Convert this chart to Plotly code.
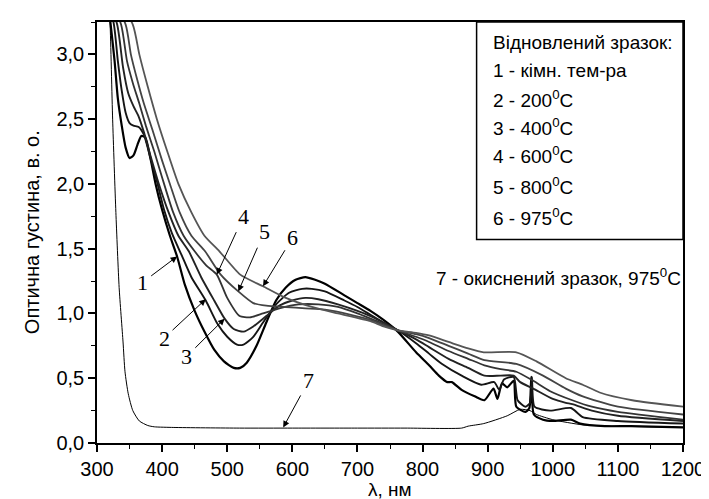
import plotly.graph_objects as go

# ---- data (wavelength, nm ; optical density) ----
wl_1 = [312,321,327,332,338,344,350,356,362,368,374,382,390,400,412,423,435,450,465,480,495,510,520,530,545,560,575,590,605,620,635,650,680,700,720,740,762,790,810,825,838,845,860,880,895,909,915,922,930,940,944,958,964,967,971,985,1000,1028,1042,1080,1120,1200]
od_1 = [3.6,3.23,2.95,2.66,2.45,2.28,2.2,2.22,2.3,2.37,2.36,2.2,2.0,1.8,1.6,1.44,1.22,1.02,0.86,0.72,0.63,0.58,0.58,0.62,0.75,0.93,1.1,1.2,1.26,1.28,1.26,1.23,1.14,1.08,1.02,0.95,0.86,0.7,0.6,0.52,0.47,0.47,0.41,0.36,0.33,0.42,0.34,0.46,0.43,0.48,0.28,0.24,0.27,0.51,0.22,0.18,0.17,0.18,0.15,0.13,0.13,0.12]

wl_2 = [308,326,332,338,344,350,356,364,372,382,392,403,415,430,445,467,485,500,515,525,540,555,575,595,615,630,650,680,700,720,740,762,790,810,830,860,890,910,918,925,940,946,958,965,968,972,996,1028,1046,1100,1200]
od_2 = [3.6,3.23,2.95,2.72,2.55,2.47,2.45,2.44,2.38,2.2,2.02,1.8,1.62,1.45,1.28,1.1,0.92,0.82,0.76,0.76,0.82,0.93,1.07,1.16,1.19,1.19,1.17,1.1,1.05,0.99,0.93,0.87,0.77,0.69,0.61,0.52,0.45,0.47,0.41,0.49,0.51,0.33,0.28,0.31,0.51,0.28,0.25,0.27,0.2,0.17,0.15]

wl_3 = [305,331,340,348,356,364,372,382,395,410,425,441,460,480,496,510,525,540,560,580,600,620,640,670,700,720,740,762,790,810,840,870,895,920,940,950,970,1000,1020,1030,1060,1100,1200]
od_3 = [3.6,3.23,2.9,2.7,2.6,2.52,2.4,2.22,2.0,1.78,1.6,1.48,1.28,1.1,0.96,0.88,0.86,0.9,0.98,1.06,1.1,1.12,1.11,1.07,1.02,0.98,0.93,0.87,0.8,0.74,0.65,0.58,0.52,0.52,0.52,0.47,0.42,0.34,0.31,0.3,0.25,0.21,0.17]

wl_4 = [305,337,346,355,365,375,388,400,417,433,450,468,484,500,519,535,555,580,610,640,670,700,720,740,762,790,810,840,870,895,920,944,970,996,1030,1060,1100,1200]
od_4 = [3.6,3.23,2.95,2.78,2.62,2.45,2.25,2.05,1.78,1.6,1.48,1.37,1.3,1.12,0.98,0.97,1.0,1.04,1.07,1.07,1.05,1.0,0.96,0.92,0.87,0.82,0.78,0.71,0.65,0.6,0.57,0.55,0.48,0.4,0.33,0.28,0.24,0.18]

wl_5 = [305,344,352,362,372,385,400,412,427,445,466,490,517,540,560,590,620,650,690,720,740,762,790,810,840,870,895,944,985,1020,1046,1100,1200]
od_5 = [3.6,3.23,3.0,2.8,2.62,2.42,2.18,2.0,1.78,1.6,1.48,1.3,1.17,1.08,1.06,1.05,1.04,1.03,0.99,0.95,0.91,0.87,0.84,0.81,0.75,0.69,0.64,0.61,0.52,0.42,0.36,0.28,0.22]

wl_6 = [310,355,365,378,392,408,425,445,465,488,520,555,590,630,670,720,740,762,790,810,840,870,894,944,975,1020,1046,1072,1122,1200]
od_6 = [3.6,3.23,3.0,2.75,2.5,2.25,2.0,1.78,1.6,1.48,1.3,1.21,1.12,1.05,1.0,0.94,0.9,0.87,0.85,0.83,0.78,0.73,0.7,0.7,0.63,0.5,0.45,0.39,0.33,0.28]

wl_7 = [316,320,324,329,334,340,343,348,355,365,378,388,418,519,600,700,773,860,870,894,930,950,965,975,1000,1046,1100,1200]
od_7 = [3.6,3.25,2.5,1.78,1.2,0.78,0.55,0.38,0.25,0.17,0.135,0.125,0.12,0.115,0.115,0.115,0.115,0.115,0.13,0.15,0.21,0.26,0.25,0.22,0.18,0.14,0.13,0.12]

series_names = ["1", "2", "3", "4", "5", "6", "7"]
legend_title = "Відновлений зразок:"
legend_lines = ["1 - кімн. тем-ра", "2 - 200<sup>0</sup>C", "3 - 400<sup>0</sup>C",
                "4 - 600<sup>0</sup>C", "5 - 800<sup>0</sup>C", "6 - 975<sup>0</sup>C"]
oxid_label = "7 - окиснений зразок, 975<sup>0</sup>C"
x_title = "λ, нм"
y_title = "Оптична густина, в. о."

# label position (text) and arrow tip for curve labels
label_x = [370, 403, 438, 525, 557, 601, 625]
label_y = [1.24, 0.81, 0.67, 1.75, 1.63, 1.59, 0.48]
tip_x = [423, 467, 496, 484, 517, 555, 586]
tip_y = [1.44, 1.11, 0.96, 1.30, 1.17, 1.21, 0.12]

curves = [(wl_1, od_1), (wl_2, od_2), (wl_3, od_3), (wl_4, od_4), (wl_5, od_5), (wl_6, od_6), (wl_7, od_7)]
colors = ["#000000", "#151515", "#222222", "#333333", "#444444", "#555555", "#000000"]
widths = [2.2, 1.9, 1.9, 1.8, 1.8, 1.8, 1.0]

fig = go.Figure()
for (xs, ys), c, w, n in zip(curves, colors, widths, series_names):
    fig.add_trace(go.Scatter(x=xs, y=ys, mode="lines", name=n,
                             line=dict(color=c, width=w, shape="spline", smoothing=0.6),
                             showlegend=False, hoverinfo="skip"))

serif = "Liberation Serif, Times New Roman, serif"
sans = "Liberation Sans, Arial, sans-serif"

# curve number labels with arrows
for i in range(7):
    fig.add_annotation(x=tip_x[i], y=tip_y[i], ax=label_x[i], ay=label_y[i],
                       xref="x", yref="y", axref="x", ayref="y",
                       text=series_names[i], showarrow=True,
                       arrowhead=2, arrowsize=1.3, arrowwidth=1, arrowcolor="black",
                       standoff=0, startstandoff=2,
                       font=dict(family=serif, size=22, color="black"))

# legend box
fig.add_shape(type="rect", xref="x", yref="y", x0=883, x1=1200, y0=1.57, y1=3.25,
              line=dict(color="black", width=1.5), fillcolor="white", layer="above")
box_y = [33, 61, 89, 117, 146, 177, 208]
box_lines = [legend_title] + legend_lines
for k, t in enumerate(box_lines):
    fig.add_annotation(xref="paper", yref="paper", x=(487 - 89) / 592,
                       y=1 - (box_y[k] - 12) / 423,
                       text=t, showarrow=False, xanchor="left", yanchor="middle",
                       font=dict(family=sans, size=19, color="black"))

fig.add_annotation(xref="paper", yref="paper", x=1.0, y=1 - (268 - 12) / 423,
                   text=oxid_label, showarrow=False, xanchor="right", yanchor="middle",
                   font=dict(family=sans, size=19, color="black"))

# axis titles
fig.add_annotation(xref="paper", yref="paper", x=0.5, y=-(482 - 435) / 423,
                   text=x_title, showarrow=False, xanchor="center", yanchor="middle",
                   font=dict(family=sans, size=19, color="black"))
fig.add_annotation(xref="paper", yref="paper", x=-(89 - 23) / 592, y=0.5,
                   text=y_title, showarrow=False, textangle=-90,
                   xanchor="center", yanchor="middle",
                   font=dict(family=sans, size=20, color="black"))

fig.update_layout(
    width=709, height=499,
    margin=dict(l=89, r=28, t=12, b=64),
    paper_bgcolor="white", plot_bgcolor="white",
    separators=", ",
    font=dict(family=sans, size=20, color="black"),
)
fig.update_xaxes(range=[300, 1200], dtick=100, tick0=300, showgrid=False, zeroline=False,
                 showline=True, linecolor="black", linewidth=1.6, mirror=True,
                 ticks="outside", ticklen=7, tickwidth=1.5, tickcolor="black",
                 minor=dict(dtick=50, ticks="outside", ticklen=4, tickwidth=1.2, tickcolor="black"),
                 tickfont=dict(family=sans, size=20))
fig.update_yaxes(range=[0, 3.25], dtick=0.5, tick0=0, tickformat=".1f", showgrid=False, zeroline=False,
                 showline=True, linecolor="black", linewidth=1.6, mirror=True,
                 ticks="outside", ticklen=7, tickwidth=1.5, tickcolor="black",
                 minor=dict(dtick=0.25, ticks="outside", ticklen=4, tickwidth=1.2, tickcolor="black"),
                 tickfont=dict(family=sans, size=20))

fig.write_html("out.html")
